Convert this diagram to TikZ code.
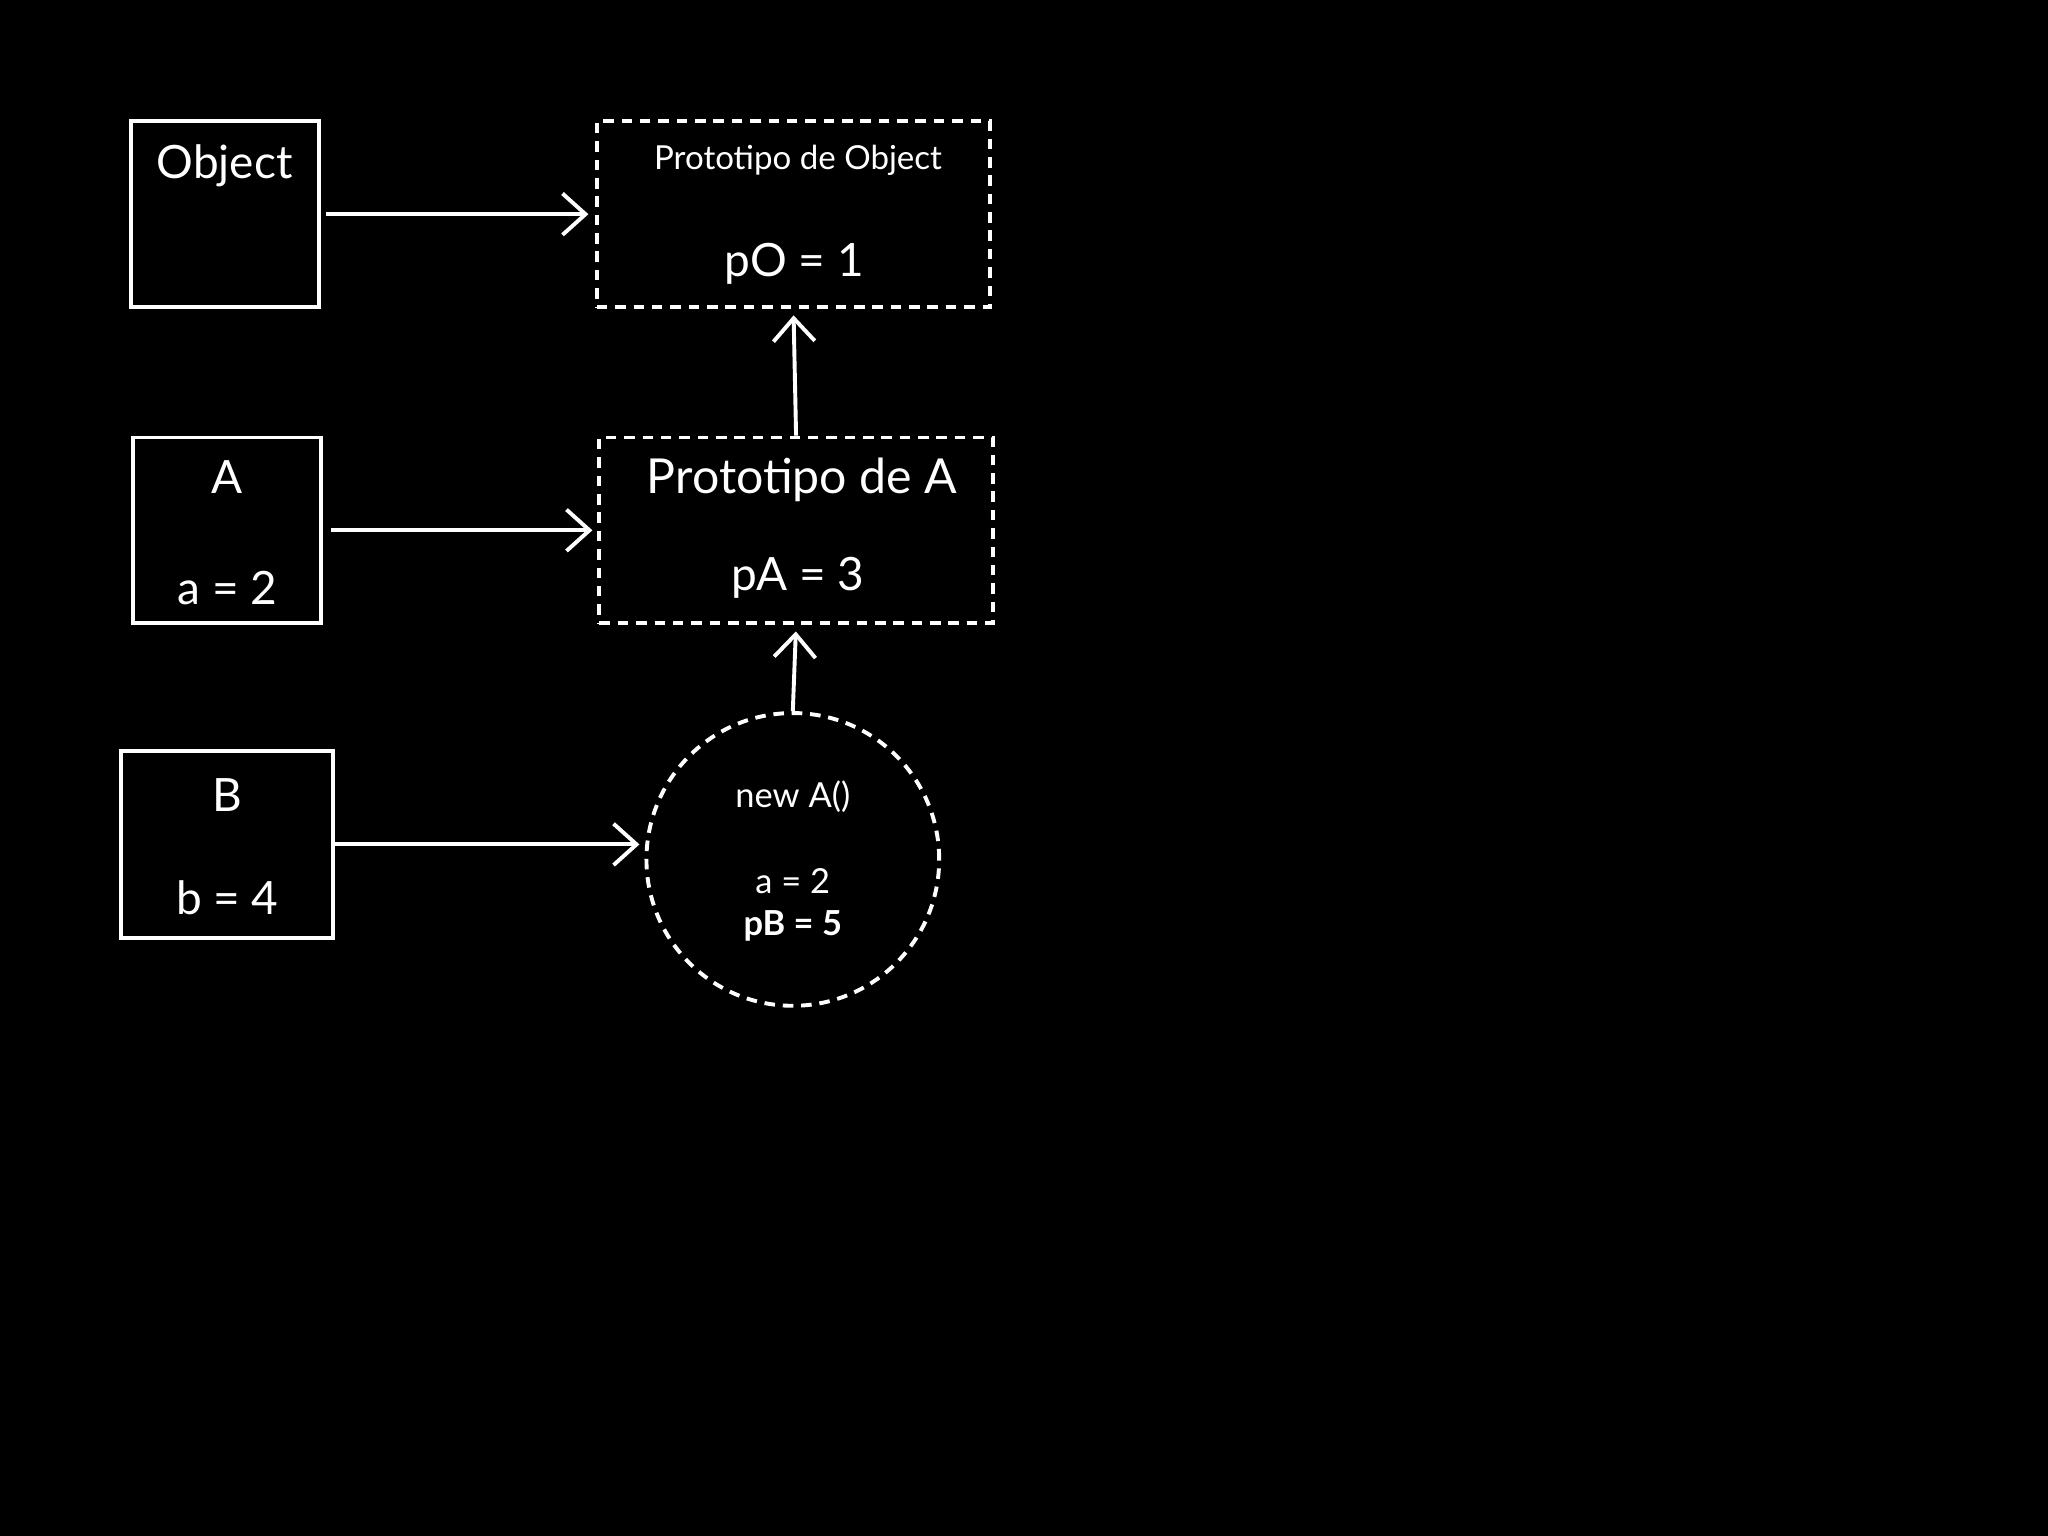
\documentclass[tikz,border=0pt]{standalone}
\usepackage{fontspec}
\setmainfont{Lato}
\usetikzlibrary{arrows.meta}
\begin{document}
\begin{tikzpicture}[x=0.01cm,y=-0.01cm,
  box/.style={draw=white,line width=0.85pt,inner sep=0pt},
  dbox/.style={box,dash pattern=on 2.3pt off 1.7pt},
  txt/.style={text=white,inner sep=0pt,anchor=base},
  arr/.style={draw=white,line width=0.85pt,-{Straight Barb[length=5pt,width=9pt,line width=0.85pt]}}]
\fill[black] (0,0) rectangle (1568,1176);
\node[box,minimum width=1.44cm,minimum height=1.42cm] (obj) at (172,164) {};
\node[dbox,minimum width=3.01cm,minimum height=1.42cm] (pobj) at (607.5,164) {};
\node[box,minimum width=1.44cm,minimum height=1.42cm] (a) at (174,406) {};
\node[dbox,minimum width=3.01cm,minimum height=1.42cm] (pa) at (609.5,406) {};
\node[box,minimum width=1.62cm,minimum height=1.43cm] (b) at (174,646.5) {};
\node[circle,draw=white,line width=0.85pt,dash pattern=on 2.3pt off 1.7pt,minimum size=2.24cm,inner sep=0pt] (c) at (607,658) {};
\node[txt,font=\fontsize{10pt}{12pt}\selectfont] at (172,137) {Object};
\node[txt,font=\fontsize{7.2pt}{9pt}\selectfont] at (611,130) {Prototipo de Object};
\node[txt,font=\fontsize{10pt}{12pt}\selectfont] at (608,212) {pO = 1};
\node[txt,font=\fontsize{10pt}{12pt}\selectfont] at (174,378) {A};
\node[txt,font=\fontsize{10pt}{12pt}\selectfont] at (174,463) {a = 2};
\node[txt,font=\fontsize{10.5pt}{12pt}\selectfont] at (614,378) {Prototipo de A};
\node[txt,font=\fontsize{10pt}{12pt}\selectfont] at (611,452) {pA = 3};
\node[txt,font=\fontsize{10pt}{12pt}\selectfont] at (174,621) {B};
\node[txt,font=\fontsize{10pt}{12pt}\selectfont] at (174,700) {b = 4};
\node[txt,font=\fontsize{7.5pt}{9pt}\selectfont] at (607,618) {new A()};
\node[txt,font=\fontsize{7.5pt}{9pt}\selectfont] at (607,684) {a = 2};
\node[txt,font=\fontsize{7.5pt}{9pt}\selectfont\bfseries] at (607,716) {pB = 5};
\draw[arr,shorten <=1.1pt,shorten >=1.4pt] (obj) -- (pobj);
\draw[arr,shorten <=1.7pt,shorten >=1.1pt] (a) -- (pa);
\draw[arr,shorten >=1.1pt] (b.east) -- (c.west |- b.east);
\draw[arr,shorten >=1.4pt] (c.north) -- (pa.south);
\draw[arr,shorten >=1.4pt] (pa.north) -- (pobj.south);
\end{tikzpicture}
\end{document}
